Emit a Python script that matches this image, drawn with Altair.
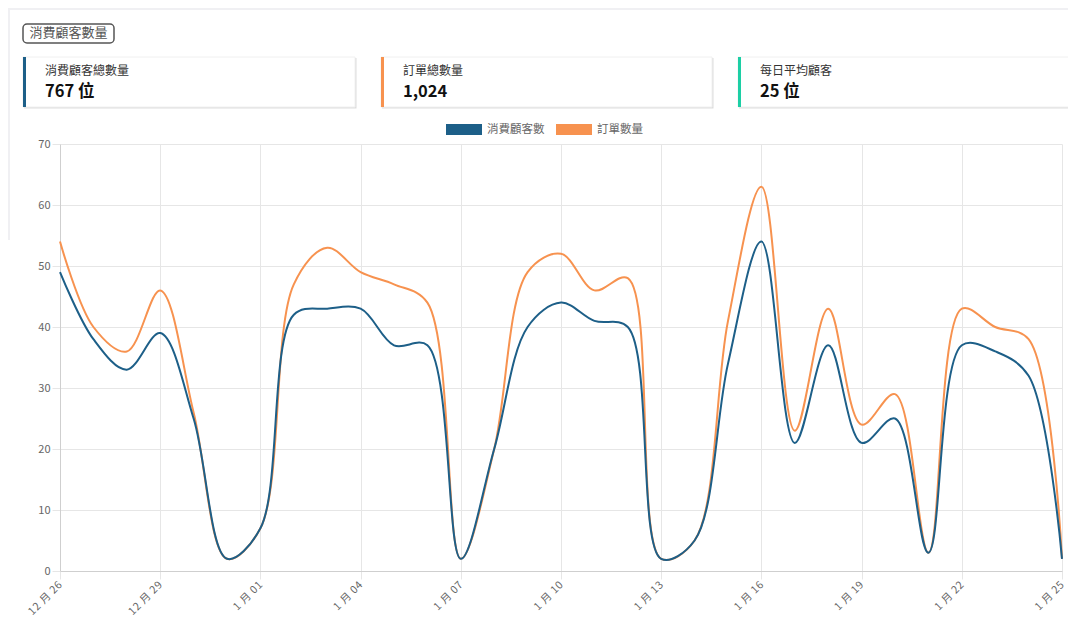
import altair as alt
import pandas as pd

# ---------------- data ----------------
dates = ["12 月 26", "12 月 27", "12 月 28", "12 月 29", "12 月 30", "12 月 31",
         "1 月 01", "1 月 02", "1 月 03", "1 月 04", "1 月 05", "1 月 06", "1 月 07",
         "1 月 08", "1 月 09", "1 月 10", "1 月 11", "1 月 12", "1 月 13", "1 月 14",
         "1 月 15", "1 月 16", "1 月 17", "1 月 18", "1 月 19", "1 月 20", "1 月 21",
         "1 月 22", "1 月 23", "1 月 24", "1 月 25"]
customers = [49, 38, 33, 39, 25, 2, 7, 42, 43, 43, 37, 37, 2, 20, 40, 44,
             41, 40, 2, 5, 34, 54, 21, 37, 21, 25, 3, 37, 36, 32, 2]
orders = [54, 40, 36, 46, 26, 2, 7, 47, 53, 49, 47, 44, 2, 20, 49, 52,
          46, 48, 2, 5, 41, 63, 23, 43, 24, 29, 3, 43, 40, 38, 2]
series_names = ["消費顧客數", "訂單數量"]
series_colors = ["#1d5f88", "#f7924f"]
y_ticks = [0, 10, 20, 30, 40, 50, 60, 70]
x_ticks = dates[::3]

header_title = "消費顧客數量"
card_titles = ["消費顧客總數量", "訂單總數量", "每日平均顧客"]
card_values = ["767 位", "1,024", "25 位"]
card_colors = ["#1d5f88", "#f7924f", "#1ccfa5"]

FONT = "Noto Sans CJK TC"
NBSP = "\u00a0"
HAIR = "\u200a"

# plot origin on the page (used to place the decorations around the plot)
OX, OY = 60, 144


def px(v):
    return v - OX


def py(v):
    return v - OY


rows = []
for d, c, o in zip(dates, customers, orders):
    rows.append({"date": d, "series": series_names[0], "value": c})
    rows.append({"date": d, "series": series_names[1], "value": o})
df = pd.DataFrame(rows)

# ---------------- decorations ----------------
base = alt.Chart(pd.DataFrame({"k": [0]}))
layers = []

# page background strips
layers.append(base.mark_rect(fill="#f0f0f3").encode(
    x=alt.value(px(0)), x2=alt.value(px(1076)), y=alt.value(py(0)), y2=alt.value(py(10))))
layers.append(base.mark_rect(fill="#f0f0f3").encode(
    x=alt.value(px(0)), x2=alt.value(px(10)), y=alt.value(py(0)), y2=alt.value(py(240))))

# header pill
layers.append(base.mark_rect(fill="#ffffff", stroke="#555555", strokeWidth=1.5, cornerRadius=4).encode(
    x=alt.value(px(23)), x2=alt.value(px(114)), y=alt.value(py(24)), y2=alt.value(py(43))))
layers.append(base.mark_text(align="center", baseline="middle", fontSize=13, color="#555555", font=FONT).encode(
    x=alt.value(px(68.5)), y=alt.value(py(33)), text=alt.value(header_title)))

# KPI cards
card_lefts = [23, 381, 738]
card_rights = [355, 712, 1069]
for i in range(3):
    L, R = card_lefts[i], card_rights[i]
    layers.append(base.mark_rect(fill="#dedede").encode(
        x=alt.value(px(L + 1)), x2=alt.value(px(R + 1.5)), y=alt.value(py(58)), y2=alt.value(py(108.5))))
    layers.append(base.mark_rect(fill="#ffffff", stroke="#f0f0f0", strokeWidth=1).encode(
        x=alt.value(px(L)), x2=alt.value(px(R)), y=alt.value(py(57)), y2=alt.value(py(107))))
    layers.append(base.mark_rect(fill=card_colors[i]).encode(
        x=alt.value(px(L)), x2=alt.value(px(L + 3)), y=alt.value(py(57)), y2=alt.value(py(107))))
    layers.append(base.mark_text(align="left", baseline="middle", fontSize=12, color="#333333", font=FONT).encode(
        x=alt.value(px(L + 22)), y=alt.value(py(71)), text=alt.value(card_titles[i])))
    layers.append(base.mark_text(align="left", baseline="middle", fontSize=16.5, fontWeight="bold",
                                 color="#111111", font=FONT).encode(
        x=alt.value(px(L + 22)), y=alt.value(py(92)), text=alt.value(card_values[i])))

# legend (drawn by hand so the swatches are wide filled boxes)
legend_lefts = [446, 556]
for i in range(2):
    L = legend_lefts[i]
    layers.append(base.mark_rect(fill=series_colors[i]).encode(
        x=alt.value(px(L)), x2=alt.value(px(L + 36)), y=alt.value(py(124)), y2=alt.value(py(135))))
    layers.append(base.mark_text(align="left", baseline="middle", fontSize=11.5, color="#666666", font=FONT).encode(
        x=alt.value(px(L + 41)), y=alt.value(py(129.5)), text=alt.value(series_names[i])))

# ---------------- line chart ----------------
x_label_expr = (
    "join(split(join(split(datum.label, ' '), '" + NBSP + "'), ''), '" + HAIR + "')"
)
x_enc = alt.X("date:O", sort=dates, scale=alt.Scale(padding=0),
              axis=alt.Axis(values=x_ticks, labelAngle=-45, labelAlign="right", labelBaseline="middle",
                            title=None, labelPadding=4, labelFontSize=10.5, grid=True,
                            labelExpr=x_label_expr))
y_enc = alt.Y("value:Q", scale=alt.Scale(domain=[0, 70], nice=False),
              axis=alt.Axis(values=y_ticks, title=None, labelPadding=2, labelFontSize=11, grid=True))
color_enc = alt.Color("series:N", sort=series_names,
                      scale=alt.Scale(domain=series_names, range=series_colors), legend=None)

orange_line = alt.Chart(df).transform_filter(
    alt.datum.series == series_names[1]
).mark_line(interpolate="catmull-rom", strokeWidth=2).encode(x=x_enc, y=y_enc, color=color_enc)
blue_line = alt.Chart(df).transform_filter(
    alt.datum.series == series_names[0]
).mark_line(interpolate="catmull-rom", strokeWidth=2).encode(x=x_enc, y=y_enc, color=color_enc)

chart = alt.layer(*layers, orange_line, blue_line).properties(
    width=1002, height=427,
    autosize=alt.AutoSizeParams(type="none"),
    padding={"left": 52, "top": 136, "right": 6, "bottom": 51},
    background="#ffffff",
).configure_view(stroke=None).configure_axis(
    labelFont=FONT, labelColor="#666666", gridColor="#e6e6e6", domainColor="#cfcfcf",
    tickColor="#e6e6e6", tickSize=8,
)

chart.save("out.html", embed_options={"renderer": "svg", "actions": False})
